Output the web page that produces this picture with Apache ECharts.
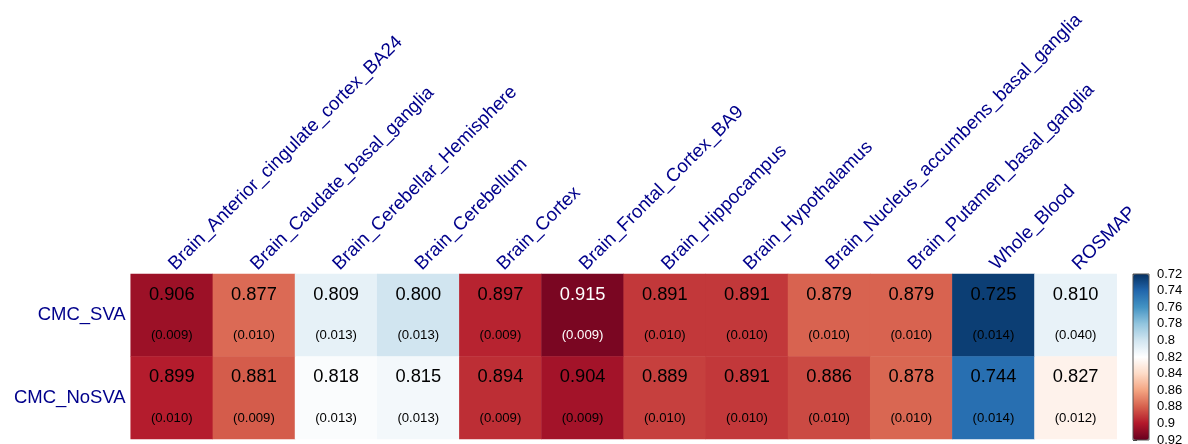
<!DOCTYPE html>
<html>
<head>
<meta charset="utf-8">
<script src="https://cdn.jsdelivr.net/npm/echarts@6/dist/echarts.min.js"></script>
<style>
  html, body { margin: 0; padding: 0; background: #ffffff; }
  #chart { width: 1188px; height: 444px; }
</style>
</head>
<body>
<div id="chart"></div>
<script>
// Tissues (columns) and models (rows)
const tissues = [
  'Brain_Anterior_cingulate_cortex_BA24',
  'Brain_Caudate_basal_ganglia',
  'Brain_Cerebellar_Hemisphere',
  'Brain_Cerebellum',
  'Brain_Cortex',
  'Brain_Frontal_Cortex_BA9',
  'Brain_Hippocampus',
  'Brain_Hypothalamus',
  'Brain_Nucleus_accumbens_basal_ganglia',
  'Brain_Putamen_basal_ganglia',
  'Whole_Blood',
  'ROSMAP'
];
const models = ['CMC_SVA', 'CMC_NoSVA'];

// Mean values and their standard errors per model
const svaValues   = [0.906, 0.877, 0.809, 0.800, 0.897, 0.915, 0.891, 0.891, 0.879, 0.879, 0.725, 0.810];
const svaSE       = [0.009, 0.010, 0.013, 0.013, 0.009, 0.009, 0.010, 0.010, 0.010, 0.010, 0.014, 0.040];
const noSvaValues = [0.899, 0.881, 0.818, 0.815, 0.894, 0.904, 0.889, 0.891, 0.886, 0.878, 0.744, 0.827];
const noSvaSE     = [0.010, 0.009, 0.013, 0.013, 0.009, 0.009, 0.010, 0.010, 0.010, 0.010, 0.014, 0.012];

// Colour scale range and colour-bar ticks
const scaleMin = 0.72;
const scaleMax = 0.92;
const scaleStep = 0.02;

const rdbu = ['#053061', '#2166AC', '#4393C3', '#92C5DE', '#D1E5F0', '#FFFFFF',
              '#FDDBC7', '#F4A582', '#D6604D', '#B2182B', '#67001F'];

const rows = [
  { values: svaValues, se: svaSE },
  { values: noSvaValues, se: noSvaSE }
];

// Heatmap cells: [column, row, value, standard error]; very dark cells get white text
const cells = [];
rows.forEach((r, yi) => {
  r.values.forEach((v, xi) => {
    const dark = v > 0.91;
    cells.push({
      value: [xi, yi, v, r.se[xi]],
      label: { color: dark ? '#ffffff' : '#000000' }
    });
  });
});

const labelColor = '#00008B';
const font = 'Liberation Sans, Arial, Helvetica, sans-serif';

const chart = echarts.init(document.getElementById('chart'), null, { renderer: 'canvas' });
chart.setOption({
  animation: false,
  backgroundColor: '#ffffff',
  grid: [
    { left: 130.7, right: 71.3, top: 274, bottom: 5, containLabel: false, outerBoundsMode: 'none' },
    { left: 1133, width: 16, top: 274, height: 166, show: true, outerBoundsMode: 'none',
      borderColor: '#555555', borderWidth: 1, backgroundColor: 'transparent', z: 10 }
  ],
  xAxis: [
    {
      type: 'category', data: tissues, position: 'top', gridIndex: 0,
      axisLine: { show: false }, axisTick: { show: false }, splitLine: { show: false },
      axisLabel: {
        rotate: -45, interval: 0, margin: 7,
        color: labelColor, fontSize: 18.7, fontFamily: font
      }
    },
    { type: 'value', gridIndex: 1, show: false, min: 0, max: 1 }
  ],
  yAxis: [
    {
      type: 'category', data: models, inverse: true, gridIndex: 0,
      axisLine: { show: false }, axisTick: { show: false }, splitLine: { show: false },
      axisLabel: { margin: 5, color: labelColor, fontSize: 18.5, fontFamily: font }
    },
    {
      type: 'value', gridIndex: 1, position: 'right', inverse: true,
      min: scaleMin, max: scaleMax, interval: scaleStep,
      axisLine: { show: false },
      axisTick: { show: true, length: 4, lineStyle: { color: '#333333' } },
      splitLine: { show: false },
      axisLabel: { margin: 8, color: '#000000', fontSize: 13, fontFamily: font }
    }
  ],
  visualMap: {
    type: 'continuous',
    min: scaleMin, max: scaleMax,
    dimension: 2, seriesIndex: 0,
    inverse: true,
    calculable: false, showLabel: false, text: ['', ''],
    left: 1133, top: 274, padding: 0,
    itemWidth: 16, itemHeight: 166,
    inRange: { color: rdbu }
  },
  series: [{
    type: 'heatmap',
    xAxisIndex: 0, yAxisIndex: 0,
    data: cells,
    itemStyle: { borderWidth: 0 },
    label: {
      show: true,
      fontFamily: font,
      formatter: p => '{v|' + p.value[2].toFixed(3) + '}\n{s|(' + p.value[3].toFixed(3) + ')}',
      rich: {
        v: { fontSize: 18.3, lineHeight: 41, fontFamily: font },
        s: { fontSize: 13.2, lineHeight: 41, fontFamily: font }
      }
    }
  }]
});
</script>
</body>
</html>
